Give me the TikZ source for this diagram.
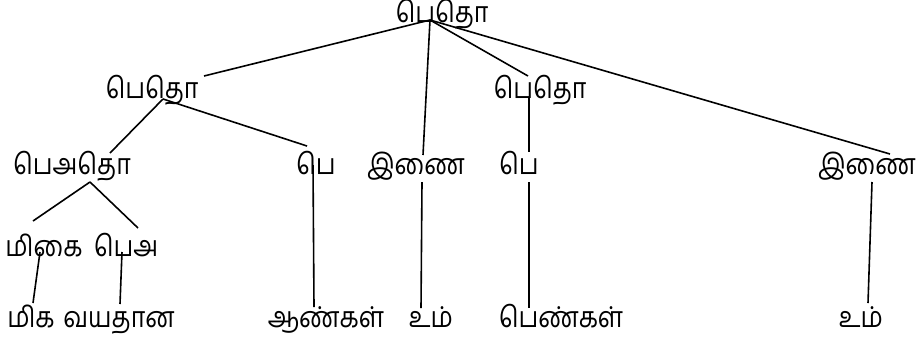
\documentclass[tikz,border=0pt]{standalone}
\usepackage{fontspec}
\usepackage{graphicx}
\newfontfamily\tamilfont[Script=Tamil]{Hind Madurai}
\newcommand{\tam}[1]{\scalebox{1}[1.15]{\tamilfont\fontsize{25}{30}\selectfont #1}}
\begin{document}
\begin{tikzpicture}[x=1pt,y=1pt,
  lbl/.style={inner sep=0pt,anchor=base},
  edge/.style={line width=1.6pt,black}]
\useasboundingbox (0,0) rectangle (917,-341);
% nodes (base positions)
\node[lbl] (root) at (442,-22) {\tam{பெதொ}};
\node[lbl] (la) at (152,-98) {\tam{பெதொ}};
\node[lbl] (lb) at (540,-98) {\tam{பெதொ}};
\node[lbl] (ma) at (72,-174) {\tam{பெஅதொ}};
\node[lbl] (mb) at (316,-174) {\tam{பெ}};
\node[lbl] (mc) at (416,-174) {\tam{இணை}};
\node[lbl] (md) at (519,-174) {\tam{பெ}};
\node[lbl] (me) at (867,-174) {\tam{இணை}};
\node[lbl] (na) at (44,-256) {\tam{மிகை}};
\node[lbl] (nb) at (126,-256) {\tam{பெஅ}};
\node[lbl] (oa) at (31,-327) {\tam{மிக}};
\node[lbl] (ob) at (119,-327) {\tam{வயதான}};
\node[lbl] (oc) at (326,-327) {\tam{ஆண்கள்}};
\node[lbl] (od) at (431,-327) {\tam{உம்}};
\node[lbl] (oe) at (561,-327) {\tam{பெண்கள்}};
\node[lbl] (of) at (861,-327) {\tam{உம்}};
% connectors
\draw[edge] ([shift={(-12,2)}]root.base) -- ([shift={(52,22)}]la.base);
\draw[edge] ([shift={(-12,2)}]root.base) -- ([shift={(7,19)}]mc.base);
\draw[edge] ([shift={(-12,2)}]root.base) -- ([shift={(-12,22)}]lb.base);
\draw[edge] ([shift={(-12,2)}]root.base) -- ([shift={(23,20)}]me.base);
\draw[edge] ([shift={(11,-1)}]la.base) -- ([shift={(38,21)}]ma.base);
\draw[edge] ([shift={(11,-1)}]la.base) -- ([shift={(-9,28)}]mb.base);
\draw[edge] ([shift={(-11,0)}]lb.base) -- ([shift={(10,22)}]md.base);
\draw[edge] ([shift={(18,-8)}]ma.base) -- ([shift={(-11,35)}]na.base);
\draw[edge] ([shift={(18,-8)}]ma.base) -- ([shift={(12,28)}]nb.base);
\draw[edge] ([shift={(-3,9)}]mb.base) -- ([shift={(-12,20)}]oc.base);
\draw[edge] ([shift={(6,-8)}]mc.base) -- ([shift={(-10,19)}]od.base);
\draw[edge] ([shift={(10,-8)}]md.base) -- ([shift={(-32,19)}]oe.base);
\draw[edge] ([shift={(5,-8)}]me.base) -- ([shift={(7,24)}]of.base);
\draw[edge] ([shift={(-4,4)}]na.base) -- ([shift={(2,24)}]oa.base);
\draw[edge] ([shift={(-4,4)}]nb.base) -- ([shift={(1,23)}]ob.base);
\end{tikzpicture}
\end{document}
